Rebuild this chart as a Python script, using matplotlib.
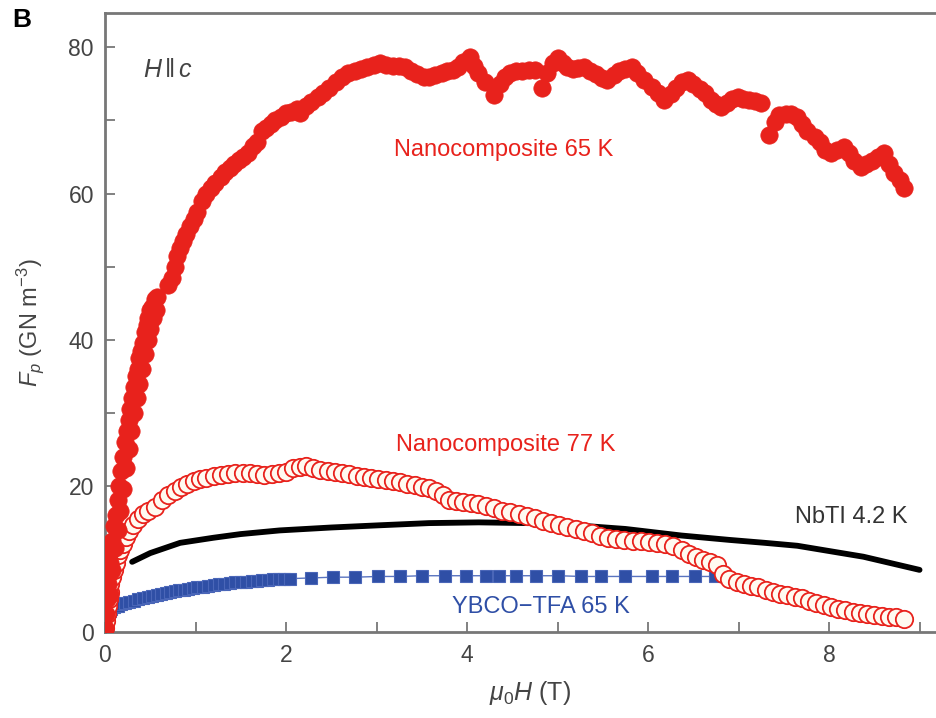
import matplotlib
matplotlib.use("Agg")
import matplotlib.pyplot as plt
from matplotlib.ticker import MultipleLocator

# ---------------- data ----------------
nc65_x = [0.00, 0.01, 0.02, 0.03, 0.04, 0.05, 0.06, 0.08, 0.10, 0.12, 0.14, 0.16, 0.18, 0.20,
          0.22, 0.24, 0.26, 0.28, 0.30, 0.32, 0.34, 0.36, 0.38, 0.40, 0.42, 0.44, 0.46, 0.48,
          0.50, 0.52, 0.55,
          0.05, 0.08, 0.11, 0.14, 0.17, 0.20, 0.23, 0.26, 0.29, 0.32, 0.35, 0.38, 0.41, 0.44,
          0.47, 0.50, 0.53, 0.56, 0.58,
          0.70, 0.74, 0.77, 0.80, 0.83, 0.86, 0.90, 0.94, 0.98, 1.02, 1.07, 1.12, 1.17, 1.22,
          1.28, 1.33, 1.38, 1.43, 1.48, 1.53, 1.58, 1.63, 1.68, 1.73, 1.78, 1.83, 1.88, 1.94,
          2.00, 2.06, 2.12,
          2.15, 2.22, 2.28, 2.35, 2.41, 2.48, 2.55, 2.62, 2.69, 2.76, 2.83, 2.90, 2.97, 3.04,
          3.11, 3.18, 3.25, 3.31, 3.38, 3.45, 3.52, 3.58, 3.65, 3.72, 3.78, 3.84, 3.90, 3.96,
          4.03, 4.08, 4.12, 4.20, 4.30, 4.36, 4.42, 4.47, 4.54, 4.61, 4.68, 4.75, 4.83, 4.88,
          4.95, 5.01, 5.06, 5.10, 5.17, 5.23, 5.29, 5.36, 5.42, 5.49, 5.55, 5.62, 5.68, 5.75,
          5.82, 5.88, 5.95, 6.04, 6.11, 6.18, 6.25, 6.31, 6.38, 6.44, 6.50, 6.57, 6.63, 6.70,
          6.75, 6.81, 6.87, 6.93, 6.99, 7.05, 7.12, 7.18, 7.25,
          7.34, 7.40, 7.45, 7.52, 7.58, 7.65, 7.70, 7.76, 7.84, 7.90, 7.96, 8.02, 8.09, 8.17,
          8.22, 8.28, 8.35, 8.41, 8.47, 8.54, 8.61, 8.66, 8.72, 8.78, 8.83]
nc65_y = [0.5, 2.5, 4.5, 6.5, 8.0, 9.5, 11.0, 12.5, 14.5, 16.0, 18.0, 20.0, 22.0, 24.0,
          26.0, 27.5, 29.0, 30.5, 32.0, 33.5, 35.0, 36.0, 37.5, 38.5, 39.5, 41.0, 42.0, 43.0,
          44.0, 44.5, 45.5,
          5.0, 8.5, 11.5, 14.0, 16.5, 19.5, 22.5, 25.0, 27.5, 30.0, 32.0, 34.0, 36.0, 38.0,
          40.0, 41.5, 43.0, 44.0, 45.8,
          47.5, 48.5, 50.0, 51.5, 52.5, 53.5, 54.5, 55.5, 56.5, 57.5, 59.0, 60.0, 60.8, 61.5,
          62.3, 63.0, 63.5, 64.0, 64.6, 65.0, 65.5, 66.5, 67.0, 68.5, 69.0, 69.5, 70.0, 70.5,
          71.0, 71.2, 71.5,
          71.0, 72.0, 72.5, 73.2, 73.7, 74.5, 75.3, 76.0, 76.5, 76.8, 77.0, 77.3, 77.6, 77.8,
          77.6, 77.5, 77.4, 77.3, 76.8, 76.3, 76.0, 75.9, 76.2, 76.5, 76.7, 76.9, 77.3, 78.0,
          78.7, 77.5, 76.5, 75.2, 73.5, 75.0, 76.0, 76.5, 76.7, 76.8, 76.9, 76.9, 74.4, 76.5,
          77.8, 78.5, 77.8, 77.3, 77.0, 77.2, 77.3, 76.8, 76.3, 75.8, 75.5, 76.2, 76.8, 77.0,
          77.3, 76.5, 75.5, 74.6, 73.8, 72.8, 73.6, 74.5, 75.2, 75.5, 75.0, 74.3, 73.7, 72.8,
          72.2, 71.8, 72.4, 73.0, 73.2, 73.0, 72.8, 72.6, 72.4,
          68.0, 69.8, 70.7, 70.9, 70.9, 70.5, 69.5, 68.5, 67.7, 67.0, 66.0, 65.5, 66.0, 66.4,
          65.5, 64.5, 63.6, 64.0, 64.5, 65.0, 65.5, 64.0, 62.8, 61.8, 60.7]

nc77_x = [0.00, 0.01, 0.02, 0.03, 0.04, 0.05, 0.06, 0.08, 0.10, 0.12, 0.14, 0.17, 0.20, 0.23,
          0.27, 0.31, 0.36, 0.42, 0.48, 0.55, 0.63, 0.70, 0.77, 0.84, 0.91, 0.98, 1.05, 1.12,
          1.20, 1.28, 1.36, 1.44, 1.52, 1.60, 1.68, 1.76, 1.84, 1.92, 2.00, 2.08, 2.15, 2.22,
          2.30, 2.38, 2.46, 2.54, 2.62, 2.70, 2.78, 2.86, 2.94, 3.02, 3.10, 3.18, 3.26, 3.34,
          3.42, 3.50, 3.58, 3.66, 3.74, 3.80, 3.88, 3.96, 4.04, 4.12, 4.21, 4.30, 4.39, 4.48,
          4.57, 4.66, 4.75, 4.84, 4.93, 5.02, 5.11, 5.20, 5.29, 5.38, 5.47, 5.56, 5.65, 5.74,
          5.83, 5.92, 6.01, 6.10, 6.19, 6.28, 6.37, 6.45, 6.53, 6.61, 6.69, 6.76, 6.83, 6.90,
          6.98, 7.06, 7.14, 7.22, 7.30, 7.38, 7.46, 7.54, 7.62, 7.70, 7.78, 7.86, 7.94, 8.02,
          8.10, 8.18, 8.26, 8.34, 8.42, 8.50, 8.58, 8.66, 8.74, 8.83]
nc77_y = [0.5, 1.5, 2.5, 3.5, 4.5, 5.5, 6.5, 7.5, 8.5, 9.5, 10.5, 11.2, 12.0, 13.0,
          13.8, 14.6, 15.5, 16.1, 16.6, 17.1, 18.0, 18.8, 19.3, 19.8, 20.3, 20.6, 20.9, 21.1,
          21.3, 21.5, 21.6, 21.7, 21.8, 21.7, 21.6, 21.5, 21.6, 21.7, 21.9, 22.5, 22.6, 22.7,
          22.5, 22.2, 22.0, 21.9, 21.8, 21.6, 21.4, 21.2, 21.1, 21.0, 20.8, 20.6, 20.5, 20.3,
          20.1, 19.9, 19.7, 19.3, 18.7, 18.1, 17.9, 17.8, 17.7, 17.5, 17.3, 16.9, 16.6, 16.4,
          16.2, 15.9, 15.6, 15.2, 14.9, 14.7, 14.4, 14.1, 13.8, 13.5, 13.2, 12.9, 12.7, 12.6,
          12.5, 12.4, 12.3, 12.2, 12.0, 11.7, 11.2, 10.7, 10.2, 9.9, 9.6, 9.2, 8.0, 7.3,
          6.9, 6.6, 6.3, 6.1, 5.8, 5.5, 5.2, 5.0, 4.8, 4.6, 4.3, 4.0, 3.7, 3.4,
          3.2, 3.0, 2.8, 2.6, 2.5, 2.3, 2.2, 2.1, 2.0, 1.8]

nbti_x = [0.30, 0.50, 0.83, 1.20, 1.50, 1.93, 2.50, 3.03, 3.58, 4.13, 4.68, 5.20, 5.75,
          6.37, 6.90, 7.29, 7.65, 8.38, 9.00]
nbti_y = [9.6, 10.8, 12.2, 12.9, 13.4, 13.9, 14.3, 14.6, 14.9, 15.0, 14.9, 14.6, 14.1,
          13.2, 12.6, 12.2, 11.8, 10.3, 8.5]

ybco_x = [0.00, 0.01, 0.02, 0.03, 0.05, 0.07, 0.10, 0.14, 0.18, 0.22, 0.27, 0.32, 0.37,
          0.42, 0.47, 0.52, 0.57, 0.62, 0.67, 0.72, 0.77, 0.82, 0.87, 0.92, 0.97, 1.02, 1.08,
          1.14, 1.20, 1.26, 1.32, 1.38, 1.44, 1.50, 1.56, 1.62, 1.68, 1.74, 1.80, 1.86, 1.92,
          1.98, 2.04, 2.28, 2.52, 2.76, 3.02, 3.26, 3.50, 3.76, 3.99, 4.21, 4.35, 4.54, 4.76,
          5.01, 5.26, 5.48, 5.75, 6.04, 6.26, 6.52, 6.74]
ybco_y = [0.3, 1.0, 1.8, 2.4, 2.9, 3.2, 3.4, 3.6, 3.8, 3.9, 4.1, 4.3, 4.5,
          4.6, 4.8, 4.9, 5.1, 5.2, 5.3, 5.5, 5.6, 5.7, 5.8, 5.9, 6.0, 6.1, 6.2,
          6.3, 6.4, 6.5, 6.6, 6.7, 6.8, 6.8, 6.9, 7.0, 7.0, 7.1, 7.1, 7.2, 7.2,
          7.3, 7.3, 7.4, 7.5, 7.5, 7.6, 7.6, 7.7, 7.7, 7.7, 7.7, 7.7, 7.7, 7.7,
          7.7, 7.6, 7.6, 7.6, 7.6, 7.6, 7.6, 7.6]

x_ticks = [0, 2, 4, 6, 8]
y_ticks = [0, 20, 40, 60, 80]
y_tick_labels = ["0", "20", "40", "60", "80"]

# ---------------- styling ----------------
RED = "#e8221c"
BLUE = "#2f4fa6"
GRAY = "#444444"
SPINE = "#777777"
FONT = ["Liberation Sans", "DejaVu Sans"]
plt.rcParams["font.family"] = FONT
plt.rcParams["mathtext.fontset"] = "custom"
plt.rcParams["mathtext.it"] = "Liberation Sans:italic"
plt.rcParams["mathtext.rm"] = "Liberation Sans"
plt.rcParams["mathtext.bf"] = "Liberation Sans:bold"

fig = plt.figure(figsize=(9.37, 7.18), dpi=100)
ax = fig.add_axes([105 / 937, 86 / 718, 1 - 105 / 937 + 0.02, (632 - 13) / 718])

ax.plot(nbti_x, nbti_y, color="black", lw=4.2, solid_capstyle="round", zorder=2)
ax.plot(ybco_x, ybco_y, color="#5a74c0", lw=1.0, ls="-", marker="s", ms=8,
        mfc=BLUE, mec="#4a66b8", mew=0.8, zorder=3)
ax.plot(nc77_x, nc77_y, ls="none", marker="o", ms=12.5, mfc="#fffaf0", mec=RED,
        mew=1.3, zorder=4)
ax.plot(nc65_x, nc65_y, ls="none", marker="o", ms=12.5, mfc=RED, mec=RED, mew=0.5,
        zorder=5)

ax.set_xlim(0, 9.4)
ax.set_ylim(0, 84.7)
ax.set_xticks(x_ticks)
ax.set_yticks(y_ticks)
ax.set_yticklabels(y_tick_labels)
ax.xaxis.set_minor_locator(MultipleLocator(1))
ax.yaxis.set_minor_locator(MultipleLocator(10))
ax.tick_params(which="both", direction="in", length=7, width=1.3, color=SPINE,
               labelsize=16.5, labelcolor=GRAY, top=False, right=False)
ax.tick_params(axis="x", pad=9)
ax.tick_params(axis="y", pad=8)
for s in ["left", "bottom", "top"]:
    ax.spines[s].set_color(SPINE)
    ax.spines[s].set_linewidth(2)
ax.spines["right"].set_visible(False)

ax.set_xlabel(r"$\mu_0H$ (T)", fontsize=18, color=GRAY, labelpad=8)
ax.set_ylabel(r"$F_p$ (GN m$^{-3}$)", fontsize=17, color=GRAY, labelpad=16)

ax.text(0.69, 76.9, r"$\mathit{H}\,\|\,\mathit{c}$", fontsize=18, color=GRAY,
        ha="center", va="center")
ax.text(4.41, 65.9, "Nanocomposite 65 K", fontsize=17, color=RED, ha="center", va="center")
ax.text(4.43, 25.6, "Nanocomposite 77 K", fontsize=17, color=RED, ha="center", va="center")
ax.text(8.24, 15.7, "NbTI 4.2 K", fontsize=17, color="#333333", ha="center", va="center")
ax.text(4.82, 3.4, "YBCO\u2212TFA 65 K", fontsize=17, color=BLUE, ha="center", va="center")

fig.text(22 / 937, 1 - 20 / 718, "B", fontsize=19, fontweight="bold", color="black",
         ha="center", va="center")

fig.savefig("out.png", dpi=100)
